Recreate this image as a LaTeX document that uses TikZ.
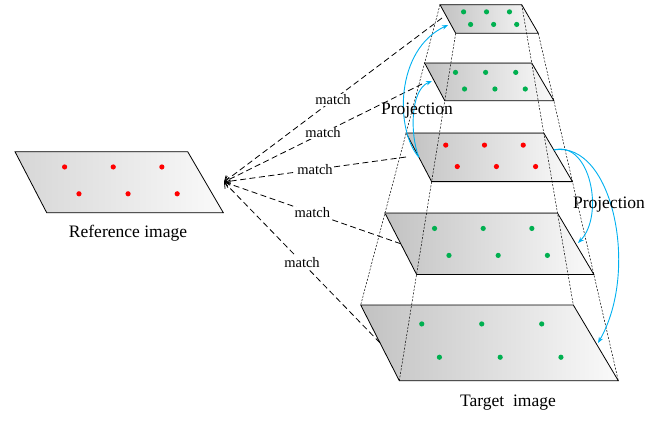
\documentclass[tikz,border=0pt]{standalone}
\usepackage{fontspec}
\setmainfont{Liberation Serif}
\usetikzlibrary{calc,arrows.meta}
\definecolor{projblue}{RGB}{0,176,240}
\definecolor{ptgreen}{RGB}{0,176,80}
\definecolor{ptred}{RGB}{255,0,0}
\tikzset{
	plane/.style={left color=black!24,right color=black!2,draw=black,line width=0.8pt},
	refplane/.style={plane,left color=black!16},
	frustum/.style={line width=0.5pt,dash pattern=on 2pt off 1.5pt},
	matchline/.style={line width=0.8pt,dash pattern=on 6pt off 3.5pt,-{Straight Barb[length=5pt,width=8pt]}},
	matchlabel/.style={fill=white,inner sep=1pt,font=\fontsize{14.5}{16}\selectfont},
	projarrow/.style={projblue,line width=0.9pt,-{Stealth[length=6pt,width=4.5pt]}},
	caption/.style={font=\fontsize{17.5}{20}\selectfont}
}
% one image plane with its six feature points
\newcommand\imgplane[3]{%
	\shadedraw[#3] (#1-tl) -- (#1-tr) -- (#1-br) -- (#1-bl) -- cycle;
	\foreach \rr in {.25,.69}
		\foreach \cc in {.24,.52,.80}
			\fill[#2] ($($(#1-tl)!\rr!(#1-bl)$)!\cc!($(#1-tr)!\rr!(#1-br)$)$) circle (2.6pt);
}
\begin{document}
\begin{tikzpicture}[x=1pt,y=-1pt]
	\useasboundingbox (0,0) rectangle (669,421);
	% reference image
	\coordinate (ref-tl) at (15,151.7);
	\coordinate (ref-tr) at (187.7,151.7);
	\coordinate (ref-br) at (223.3,212.7);
	\coordinate (ref-bl) at (46.7,212.7);
	% pyramid: top and bottom level, the others on the frustum
	\coordinate (l1-tl) at (440,4.7);
	\coordinate (l1-tr) at (521.7,4.7);
	\coordinate (l1-br) at (538.3,33.3);
	\coordinate (l1-bl) at (455.7,33.3);
	\coordinate (l5-tl) at (360.7,305);
	\coordinate (l5-tr) at (573.3,305);
	\coordinate (l5-br) at (618.3,380.7);
	\coordinate (l5-bl) at (399.3,380.7);
	\foreach \n/\t in {l2/.194,l3/.427,l4/.694}
		\foreach \c in {tl,tr,br,bl}
			\coordinate (\n-\c) at ($(l1-\c)!\t!(l5-\c)$);

	\imgplane{ref}{ptred}{refplane}
	\foreach \n/\col in {l5/ptgreen,l4/ptgreen,l3/ptred,l2/ptgreen,l1/ptgreen}
		{\imgplane{\n}{\col}{plane}}
	\foreach \n in {l2,l3,l4}
		\draw[black!55,line width=0.8pt] (\n-tl) -- (\n-tr);
	\foreach \c in {tl,tr,br,bl}
		\draw[frustum] (l1-\c) -- (l5-\c);

	% matching
	\coordinate (hub) at (224,182);
	\coordinate (m1) at (442,18);
	\coordinate (m2) at (422,84);
	\coordinate (m3) at (406,157);
	\coordinate (m4) at ($(l4-tl)!.5!(l4-bl)$);
	\coordinate (m5) at ($(l5-tl)!.5!(l5-bl)$);
	\foreach \m in {m1,m2,m3,m4,m5}
		\draw[matchline] (\m) -- node[matchlabel] (lab-\m) {match} (hub);

	% projections
	\coordinate (pl) at ($(l3-tl)!.5!(l3-bl)$);
	\coordinate (pu1) at (448,25);
	\coordinate (pu2) at (432,81);
	\coordinate (pr) at ($(l3-tr)!.35!(l3-br)$);
	\coordinate (pd1) at (578,243);
	\coordinate (pd2) at (598,343);
	\draw[projarrow] (pl) .. controls (395,130) and (395,50) .. (pu1);
	\draw[projarrow] (pl) .. controls (410,135) and (410,90) .. (pu2);
	\draw[projarrow] (pr) .. controls (590,140) and (605,215) .. (pd1);
	\draw[projarrow] (pr) .. controls (612,140) and (640,270) .. (pd2);

	\node[caption] (projl) at (417,111) {Projection};
	\node[caption] (projr) at (609,205) {Projection};
	\node[caption] (reflabel) at (128,233) {Reference image};
	\node[caption] (tgtlabel) at (508,403) {Target~~image};
\end{tikzpicture}
\end{document}
